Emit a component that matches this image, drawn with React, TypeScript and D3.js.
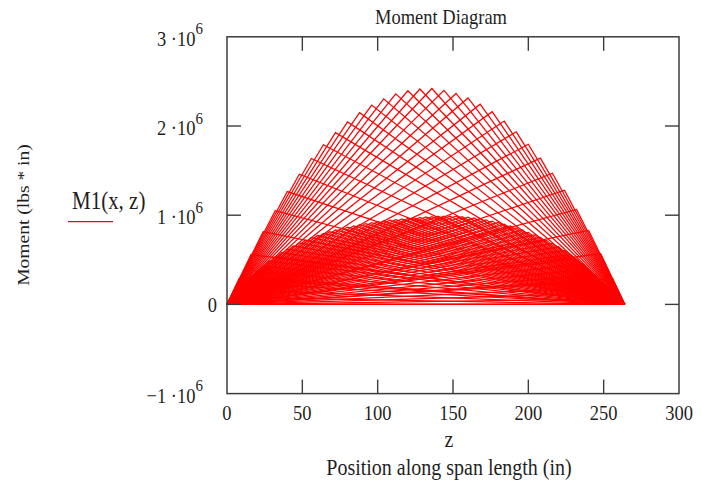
import React from "react";
import * as d3 from "d3";

// ---- data ----
const spanLength = 264; // in
const xTicks = [0, 50, 100, 150, 200, 250, 300];
const yTicks = [-1e6, 0, 1e6, 2e6, 3e6];
const yTickMantissa = ["\u22121", "0", "1", "2", "3"];

// heavy-axle family: apex position (in) and apex moment (lbs*in)
const heavyApexZ = [0, 8, 16, 24, 32, 40, 48, 56, 64, 72, 80, 88, 96, 104, 112, 120, 128, 136, 144, 152, 160, 168, 176, 184, 192, 200, 208, 216, 224, 232, 240, 248, 256, 264];
const heavyApexM = [0, 290e3, 560e3, 815e3, 1050e3, 1265e3, 1460e3, 1635e3, 1790e3, 1925e3, 2045e3, 2150e3, 2235e3, 2305e3, 2360e3, 2395e3, 2415e3, 2420e3, 2400e3, 2365e3, 2315e3, 2245e3, 2160e3, 2055e3, 1935e3, 1795e3, 1640e3, 1470e3, 1280e3, 1065e3, 830e3, 570e3, 290e3, 0];

// light-axle family (denser lower band)
const lightApexZ = [0, 4, 8, 12, 16, 20, 24, 28, 32, 36, 40, 44, 48, 52, 56, 60, 64, 68, 72, 76, 80, 84, 88, 92, 96, 100, 104, 108, 112, 116, 120, 124, 128, 132, 136, 140, 144, 148, 152, 156, 160, 164, 168, 172, 176, 180, 184, 188, 192, 196, 200, 204, 208, 212, 216, 220, 224, 228, 232, 236, 240, 244, 248, 252, 256, 260, 264];
const lightApexM = [0, 80e3, 160e3, 235e3, 305e3, 370e3, 430e3, 485e3, 535e3, 580e3, 620e3, 655e3, 690e3, 720e3, 748e3, 772e3, 795e3, 815e3, 834e3, 851e3, 867e3, 881e3, 894e3, 906e3, 917e3, 927e3, 936e3, 944e3, 951e3, 958e3, 964e3, 970e3, 975e3, 980e3, 984e3, 988e3, 990e3, 990e3, 988e3, 984e3, 978e3, 970e3, 960e3, 948e3, 934e3, 918e3, 900e3, 880e3, 858e3, 834e3, 808e3, 780e3, 750e3, 718e3, 684e3, 646e3, 605e3, 560e3, 510e3, 455e3, 395e3, 330e3, 262e3, 192e3, 128e3, 64e3, 0];

const W = 702;
const H = 486;
const FONT = "'Liberation Serif', 'Times New Roman', serif";
const TEXT = "#1f1f1f";

function STxt(props: { x: number; y: number; sy?: number; size: number; anchor?: string; rotate?: number; children: React.ReactNode }) {
  const { x, y, sy = 1.15, size, anchor = "middle", rotate = 0, children } = props;
  const t = rotate ? `translate(${x},${y}) rotate(${rotate}) scale(${sy},1)` : `translate(${x},${y}) scale(1,${sy})`;
  return (
    <g transform={t}>
      <text x={0} y={0} fontFamily={FONT} fontSize={size} textAnchor={anchor as any} fill={TEXT}>
        {children}
      </text>
    </g>
  );
}

export default function App() {
  const x = d3.scaleLinear().domain([0, 300]).range([227, 679]);
  const y = d3.scaleLinear().domain([-1e6, 3e6]).range([393.6, 36.8]);
  const line = d3
    .line<[number, number]>()
    .x((d) => x(d[0]))
    .y((d) => y(d[1]));

  const curves: [number, number][][] = [];
  heavyApexZ.forEach((a, i) => curves.push([[0, 0], [a, heavyApexM[i]], [spanLength, 0]]));
  lightApexZ.forEach((a, i) => curves.push([[0, 0], [a, lightApexM[i]], [spanLength, 0]]));

  const x0 = x(0), x1 = x(300), yT = y(3e6), yB = y(-1e6);
  const tickLen = 14;
  const frame = "#3c3c3c";

  return (
    <svg width={W} height={H} style={{ position: "absolute", left: 0, top: 0, background: "#fff" }}>
      {/* data */}
      <g fill="none" stroke="#ff0000" strokeWidth={1.25}>
        {curves.map((c, i) => (
          <path key={i} d={line(c) || ""} />
        ))}
      </g>

      {/* frame */}
      <rect x={x0} y={yT} width={x1 - x0} height={yB - yT} fill="none" stroke={frame} strokeWidth={1.5} />
      {xTicks.slice(1, -1).map((t) => (
        <g key={"xt" + t} stroke={frame} strokeWidth={1.4}>
          <line x1={x(t)} x2={x(t)} y1={yB} y2={yB - tickLen} />
          <line x1={x(t)} x2={x(t)} y1={yT} y2={yT + tickLen} />
        </g>
      ))}
      {yTicks.slice(1, -1).map((t) => (
        <g key={"yt" + t} stroke={frame} strokeWidth={1.4}>
          <line x1={x0} x2={x0 + tickLen} y1={y(t)} y2={y(t)} />
          <line x1={x1} x2={x1 - tickLen} y1={y(t)} y2={y(t)} />
        </g>
      ))}

      {/* x tick labels */}
      {xTicks.map((t) => (
        <STxt key={"xl" + t} x={x(t)} y={420} size={18.5}>
          {String(t)}
        </STxt>
      ))}

      {/* y tick labels */}
      {yTicks.map((t, i) =>
        t === 0 ? (
          <STxt key={"yl" + t} x={217} y={y(t) + 8} size={18.5} anchor="end">
            0
          </STxt>
        ) : (
          <STxt key={"yl" + t} x={203} y={y(t) + 9} size={18.5} anchor="end">
            {yTickMantissa[i] + " \u00b710"}
            <tspan dy={-10} fontSize={15}>6</tspan>
          </STxt>
        )
      )}

      {/* title and axis titles */}
      <STxt x={441} y={24} size={18.5}>Moment Diagram</STxt>
      <STxt x={449} y={446.5} size={20}>z</STxt>
      <STxt x={449} y={475} size={20}>Position along span length (in)</STxt>
      <STxt x={29} y={215} size={17} rotate={-90}>Moment (lbs * in)</STxt>

      {/* legend */}
      <STxt x={72} y={209} size={21} anchor="start">M1(x, z)</STxt>
      <line x1={68} x2={113} y1={221.7} y2={221.7} stroke="#ff0000" strokeWidth={1.2} />
    </svg>
  );
}
